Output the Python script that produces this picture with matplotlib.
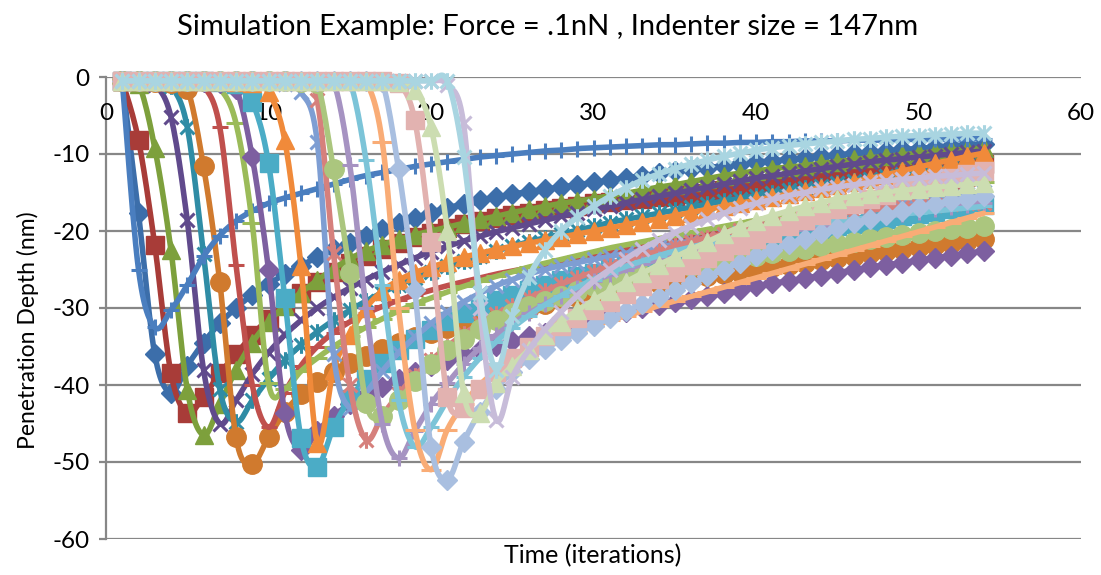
import numpy as np
import matplotlib
matplotlib.use("Agg")
import matplotlib.pyplot as plt
from matplotlib.path import Path
from matplotlib.ticker import FuncFormatter

plt.rcParams['font.family'] = ['Lato', 'DejaVu Sans']

# iteration index shared by every run
iterations = list(range(1, 55))

# penetration depth (nm) per run, one value per iteration
run01 = [-0.5, -17.7, -36.0, -41.0, -37.5, -34.5, -32.0, -30.0, -28.3, -26.9,
         -25.6, -24.5, -23.4, -22.4, -21.5, -20.6, -19.8, -19.0, -18.3, -17.6,
         -17.0, -16.5, -16.0, -15.6, -15.2, -14.9, -14.6, -14.3, -14.0, -13.7,
         -13.4, -13.1, -12.8, -12.5, -12.2, -12.0, -11.8, -11.5, -11.3, -11.1,
         -10.9, -10.7, -10.5, -10.3, -10.1, -9.9, -9.8, -9.6, -9.4, -9.3,
         -9.1, -9.0, -8.8, -8.7]
run02 = [-0.5, -8.2, -21.8, -38.5, -43.6, -41.5, -38.5, -36.0, -33.5, -31.4,
         -29.6, -28.0, -26.6, -25.3, -24.2, -23.2, -22.3, -21.5, -20.8, -20.2,
         -19.6, -19.1, -18.7, -18.3, -17.9, -17.6, -17.3, -17.0, -16.7, -16.4,
         -16.2, -16.0, -15.8, -15.6, -15.4, -15.2, -15.0, -14.7, -14.5, -14.3,
         -14.1, -13.9, -13.6, -13.4, -13.2, -13.0, -12.7, -12.5, -12.3, -12.1,
         -11.9, -11.7, -11.5, -11.3]
run03 = [-0.5, -0.9, -9.2, -22.5, -40.6, -46.5, -42.5, -38.0, -34.5, -31.8,
         -29.7, -28.0, -26.4, -24.9, -23.6, -22.6, -21.8, -21.1, -20.5, -20.0,
         -19.5, -19.0, -18.5, -18.1, -17.6, -17.2, -16.8, -16.4, -16.1, -15.8,
         -15.4, -15.1, -14.7, -14.3, -14.0, -13.6, -13.2, -12.8, -12.5, -12.2,
         -11.9, -11.7, -11.5, -11.2, -11.0, -10.7, -10.5, -10.3, -10.1, -9.9,
         -9.7, -9.5, -9.4, -9.2]
run04 = [-0.5, -0.6, -1.0, -5.2, -18.6, -38.0, -45.0, -42.0, -38.6, -35.8,
         -33.5, -31.6, -30.0, -28.6, -27.4, -26.3, -25.3, -24.4, -23.5, -22.7,
         -22.0, -21.3, -20.7, -20.1, -19.6, -19.1, -18.6, -18.1, -17.7, -17.2,
         -16.8, -16.3, -15.9, -15.5, -15.1, -14.7, -14.3, -13.9, -13.5, -13.1,
         -12.8, -12.5, -12.2, -11.9, -11.6, -11.3, -11.0, -10.8, -10.6, -10.4,
         -10.2, -10.0, -9.8, -9.6]
run05 = [-0.5, -0.5, -0.7, -1.2, -6.5, -23.0, -40.5, -44.8, -42.0, -39.2,
         -36.8, -34.8, -33.1, -31.6, -30.3, -29.1, -28.0, -27.0, -26.1, -25.3,
         -24.6, -23.9, -23.2, -22.6, -22.0, -21.4, -20.9, -20.4, -19.9, -19.4,
         -18.9, -18.5, -18.1, -17.7, -17.3, -16.9, -16.5, -16.1, -15.8, -15.4,
         -15.1, -14.7, -14.4, -14.1, -13.8, -13.5, -13.2, -12.9, -12.6, -12.3,
         -12.0, -11.7, -11.4, -11.2]
run06 = [-0.5, -0.5, -0.6, -0.8, -1.5, -11.6, -26.6, -46.8, -50.2, -46.8,
         -43.5, -41.2, -39.6, -38.3, -37.2, -36.2, -35.3, -34.5, -33.8, -33.2,
         -32.6, -32.0, -31.5, -31.0, -30.5, -30.0, -29.5, -29.0, -28.6, -28.2,
         -27.8, -27.4, -27.1, -26.8, -26.5, -26.2, -25.9, -25.6, -25.3, -25.0,
         -24.7, -24.4, -24.1, -23.8, -23.5, -23.2, -22.9, -22.6, -22.4, -22.1,
         -21.8, -21.6, -21.3, -21.1]
run07 = [-0.5, -25.0, -32.5, -30.3, -27.0, -23.3, -20.6, -18.7, -17.4, -16.4,
         -15.7, -15.1, -14.5, -13.9, -13.3, -12.8, -12.4, -12.0, -11.6, -11.3,
         -11.0, -10.7, -10.4, -10.2, -10.0, -9.8, -9.6, -9.5, -9.3, -9.2,
         -9.1, -9.0, -8.9, -8.8, -8.8, -8.7, -8.6, -8.6, -8.5, -8.5,
         -8.4, -8.4, -8.3, -8.3, -8.3, -8.2, -8.2, -8.2, -8.1, -8.1,
         -8.1, -8.1, -8.0, -8.0]
run08 = [-0.5, -0.5, -0.5, -0.6, -0.7, -1.2, -6.5, -24.4, -40.0, -45.5,
         -41.0, -37.5, -35.0, -33.2, -31.8, -30.7, -29.8, -29.0, -28.3, -27.7,
         -27.1, -26.6, -26.1, -25.6, -25.2, -24.8, -24.4, -24.0, -23.6, -23.2,
         -22.8, -22.4, -22.0, -21.6, -21.2, -20.8, -20.4, -20.0, -19.6, -19.2,
         -18.8, -18.4, -18.0, -17.6, -17.2, -16.8, -16.4, -16.0, -15.6, -15.2,
         -14.8, -14.4, -14.0, -13.6]
run09 = [-0.5, -0.5, -0.5, -0.5, -0.6, -0.8, -1.5, -6.0, -19.0, -39.8,
         -40.5, -38.2, -36.5, -35.0, -33.7, -32.5, -31.4, -30.4, -29.5, -28.7,
         -27.9, -27.2, -26.5, -25.9, -25.3, -24.7, -24.2, -23.7, -23.2, -22.7,
         -22.2, -21.8, -21.4, -21.0, -20.6, -20.2, -19.8, -19.4, -19.0, -18.6,
         -18.2, -17.8, -17.4, -17.0, -16.7, -16.3, -15.9, -15.5, -15.2, -14.8,
         -14.5, -14.2, -13.9, -13.6]
run10 = [-0.5, -0.5, -0.5, -0.5, -0.5, -0.6, -0.8, -1.5, -10.4, -25.0,
         -43.6, -48.4, -46.0, -44.0, -42.5, -41.3, -40.2, -39.2, -38.3, -37.5,
         -36.8, -36.1, -35.5, -34.9, -34.3, -33.7, -33.2, -32.7, -32.1, -31.6,
         -31.1, -30.5, -30.0, -29.6, -29.2, -28.8, -28.4, -28.0, -27.6, -27.2,
         -26.8, -26.5, -26.1, -25.8, -25.4, -25.1, -24.7, -24.4, -24.1, -23.8,
         -23.5, -23.2, -22.9, -22.6]
run11 = [-0.5, -0.5, -0.5, -0.5, -0.5, -0.5, -0.6, -0.9, -3.2, -11.2,
         -28.7, -46.9, -50.6, -45.5, -41.8, -39.2, -37.2, -35.5, -34.0, -32.8,
         -31.7, -30.7, -29.8, -29.0, -28.3, -27.6, -27.0, -26.4, -25.9, -25.4,
         -24.9, -24.4, -24.0, -23.6, -23.2, -22.8, -22.4, -22.0, -21.6, -21.2,
         -20.8, -20.5, -20.1, -19.8, -19.4, -19.1, -18.7, -18.4, -18.1, -17.8,
         -17.5, -17.2, -16.9, -16.6]
run12 = [-0.5, -0.5, -0.5, -0.5, -0.5, -0.5, -0.5, -0.6, -0.8, -2.0,
         -8.2, -24.6, -47.5, -38.0, -33.5, -30.0, -27.8, -26.4, -25.4, -24.7,
         -24.0, -23.4, -22.9, -22.4, -22.0, -21.6, -21.2, -20.8, -20.4, -20.0,
         -19.6, -19.2, -18.8, -18.4, -18.0, -17.6, -17.2, -16.8, -16.4, -16.0,
         -15.6, -15.2, -14.8, -14.4, -14.0, -13.6, -13.2, -12.7, -12.2, -11.7,
         -11.2, -10.8, -10.3, -9.9]
run13 = [-0.5, -0.5, -0.5, -0.5, -0.5, -0.5, -0.5, -0.5, -0.6, -0.7,
         -0.9, -2.0, -8.4, -36.0, -43.0, -41.0, -38.2, -35.8, -33.8, -32.0,
         -30.5, -29.2, -28.1, -27.1, -26.3, -25.6, -25.0, -24.5, -24.1, -23.7,
         -23.3, -22.9, -22.5, -22.1, -21.7, -21.3, -20.9, -20.5, -20.1, -19.7,
         -19.3, -18.9, -18.5, -18.2, -17.8, -17.5, -17.1, -16.8, -16.4, -16.1,
         -15.8, -15.5, -15.2, -14.9]
run14 = [-0.5, -0.5, -0.5, -0.5, -0.5, -0.5, -0.5, -0.5, -0.5, -0.5,
         -0.6, -0.7, -3.0, -22.9, -40.0, -47.1, -44.0, -41.2, -38.8, -36.8,
         -35.0, -33.4, -32.0, -30.8, -29.7, -28.7, -27.8, -26.9, -26.1, -25.3,
         -24.6, -23.9, -23.2, -22.6, -22.0, -21.4, -20.9, -20.4, -19.9, -19.5,
         -19.1, -18.7, -18.4, -18.1, -17.8, -17.5, -17.3, -17.1, -16.9, -16.7,
         -16.6, -16.5, -16.4, -16.3]
run15 = [-0.5, -0.5, -0.5, -0.5, -0.5, -0.5, -0.5, -0.5, -0.5, -0.5,
         -0.5, -0.6, -0.8, -12.0, -25.5, -42.3, -44.0, -42.0, -39.5, -37.3,
         -35.5, -34.0, -32.7, -31.6, -30.6, -29.8, -29.1, -28.4, -27.8, -27.2,
         -26.7, -26.2, -25.7, -25.3, -24.9, -24.5, -24.1, -23.8, -23.5, -23.2,
         -22.9, -22.6, -22.3, -22.0, -21.7, -21.4, -21.1, -20.8, -20.5, -20.3,
         -20.0, -19.8, -19.6, -19.4]
run16 = [-0.5, -0.5, -0.5, -0.5, -0.5, -0.5, -0.5, -0.5, -0.5, -0.5,
         -0.5, -0.5, -0.5, -0.6, -11.4, -30.0, -45.0, -49.5, -46.0, -42.5,
         -39.8, -37.3, -35.2, -33.5, -32.0, -30.7, -29.5, -28.4, -27.4, -26.5,
         -25.7, -25.0, -24.3, -23.7, -23.1, -22.6, -22.1, -21.6, -21.2, -20.8,
         -20.4, -20.0, -19.7, -19.3, -19.0, -18.7, -18.4, -18.1, -17.8, -17.5,
         -17.2, -16.9, -16.6, -16.3]
run17 = [-0.5, -0.5, -0.5, -0.5, -0.5, -0.5, -0.5, -0.5, -0.5, -0.5,
         -0.5, -0.5, -0.5, -0.5, -0.6, -10.8, -27.0, -42.0, -48.0, -45.5,
         -42.0, -39.0, -36.5, -34.4, -32.6, -31.0, -29.6, -28.4, -27.3, -26.3,
         -25.4, -24.6, -23.9, -23.2, -22.6, -22.1, -21.6, -21.1, -20.7, -20.3,
         -19.9, -19.6, -19.3, -19.0, -18.7, -18.5, -18.3, -18.0, -17.8, -17.6,
         -17.4, -17.2, -17.0, -16.8]
run18 = [-0.5, -0.5, -0.5, -0.5, -0.5, -0.5, -0.5, -0.5, -0.5, -0.5,
         -0.5, -0.5, -0.5, -0.5, -0.5, -0.6, -8.4, -30.0, -45.8, -51.0,
         -45.8, -42.5, -40.0, -38.2, -36.8, -35.7, -34.7, -33.8, -33.0, -32.3,
         -31.6, -31.0, -30.4, -29.7, -29.1, -28.5, -27.9, -27.3, -26.7, -26.1,
         -25.5, -24.9, -24.3, -23.7, -23.1, -22.5, -21.9, -21.3, -20.7, -20.1,
         -19.5, -18.9, -18.3, -17.7]
run19 = [-0.5, -0.5, -0.5, -0.5, -0.5, -0.5, -0.5, -0.5, -0.5, -0.5,
         -0.5, -0.5, -0.5, -0.5, -0.5, -0.5, -0.7, -11.9, -27.7, -48.0,
         -52.3, -47.4, -43.5, -40.5, -38.3, -36.6, -35.3, -34.2, -33.2, -32.3,
         -31.3, -30.4, -29.5, -28.6, -27.7, -26.8, -25.9, -25.0, -24.1, -23.3,
         -22.5, -21.7, -21.0, -20.3, -19.6, -19.0, -18.4, -17.9, -17.4, -16.9,
         -16.5, -16.1, -15.8, -15.5]
run20 = [-0.5, -0.5, -0.5, -0.5, -0.5, -0.5, -0.5, -0.5, -0.5, -0.5,
         -0.5, -0.5, -0.5, -0.5, -0.5, -0.5, -0.5, -0.8, -5.6, -21.4,
         -41.5, -43.0, -40.5, -38.3, -36.5, -35.0, -33.6, -32.4, -31.3, -30.2,
         -29.2, -28.2, -27.2, -26.2, -25.3, -24.4, -23.5, -22.6, -21.8, -21.0,
         -20.2, -19.4, -18.6, -17.9, -17.2, -16.5, -15.9, -15.3, -14.7, -14.1,
         -13.6, -13.1, -12.6, -12.2]
run21 = [-0.5, -0.5, -0.5, -0.5, -0.5, -0.5, -0.5, -0.5, -0.5, -0.5,
         -0.5, -0.5, -0.5, -0.5, -0.5, -0.5, -0.5, -0.6, -1.7, -6.5,
         -20.0, -41.0, -43.6, -39.8, -37.5, -35.5, -33.5, -31.8, -30.3, -29.0,
         -27.8, -26.6, -25.5, -24.4, -23.4, -22.4, -21.4, -20.4, -19.5, -18.7,
         -18.0, -17.4, -16.8, -16.3, -15.8, -15.5, -15.2, -14.9, -14.7, -14.5,
         -14.3, -14.1, -13.9, -13.8]
run22 = [-0.5, -0.5, -0.5, -0.5, -0.5, -0.5, -0.5, -0.5, -0.5, -0.5,
         -0.5, -0.5, -0.5, -0.5, -0.5, -0.5, -0.5, -0.5, -0.5, -0.5,
         -1.0, -6.0, -30.0, -44.5, -39.0, -35.5, -32.8, -30.5, -28.4, -26.5,
         -25.0, -23.6, -22.3, -21.2, -20.2, -19.3, -18.5, -17.7, -17.0, -16.4,
         -15.9, -15.4, -15.0, -14.6, -14.3, -14.0, -13.7, -13.5, -13.3, -13.1,
         -12.9, -12.8, -12.6, -12.5]
run23 = [-0.5, -0.5, -0.5, -0.5, -0.5, -0.5, -0.5, -0.5, -0.5, -0.5,
         -0.5, -0.5, -0.5, -0.5, -0.5, -0.5, -0.5, -0.5, -0.5, -0.5,
         -0.5, -10.4, -28.0, -38.0, -31.0, -26.0, -22.5, -20.0, -18.2, -16.8,
         -15.5, -14.4, -13.4, -12.6, -11.9, -11.3, -10.8, -10.3, -9.9, -9.5,
         -9.2, -8.9, -8.7, -8.5, -8.3, -8.1, -8.0, -7.8, -7.7, -7.6,
         -7.5, -7.4, -7.3, -7.3]

runs = [run01, run02, run03, run04, run05, run06, run07, run08, run09, run10,
        run11, run12, run13, run14, run15, run16, run17, run18, run19, run20,
        run21, run22, run23]

colors = ['#3C6EAA', '#A83C38', '#7DA03C', '#604A8C', '#2F8CA5', '#D07A2E',
          '#4A7EBF', '#C0504D', '#9BBB59', '#7D5FA0', '#4BACC6', '#F08A3A',
          '#7E9ED3', '#D6807C', '#ABC67E', '#A693C2', '#7CC4D8', '#F9AC76',
          '#A9BFE0', '#E2B2B0', '#CCDDB1', '#C7BCD9', '#A9D5E1']

# asterisk: an x with a vertical bar through it
STAR = Path([(-0.5, -0.5), (0.5, 0.5), (-0.5, 0.5), (0.5, -0.5), (0, -0.6), (0, 0.6)],
            [Path.MOVETO, Path.LINETO, Path.MOVETO, Path.LINETO, Path.MOVETO, Path.LINETO])

# marker, size, filled
marker_cycle = [('D', 10, True), ('s', 12.5, True), ('^', 13.5, True), ('x', 10, False),
                (STAR, 12, False), ('o', 14, True), ('+', 12, False),
                ('_', 11, False), ('_', 14, False)]


def smooth(x, y, n=12):
    """Bezier smoothing through the points, like a spreadsheet smoothed line."""
    pts = np.column_stack([x, y]).astype(float)
    p = np.vstack([pts[0], pts, pts[-1]])
    s = np.linspace(0, 1, n, endpoint=False)[:, None]
    out = []
    for i in range(1, len(p) - 2):
        p0, p1, p2, p3 = p[i - 1], p[i], p[i + 1], p[i + 2]
        c1 = p1 + (p2 - p0) / 6.0
        c2 = p2 - (p3 - p1) / 6.0
        out.append((1 - s) ** 3 * p1 + 3 * (1 - s) ** 2 * s * c1
                   + 3 * (1 - s) * s ** 2 * c2 + s ** 3 * p2)
    out.append(pts[-1:])
    seg = np.vstack(out)
    return seg[:, 0], seg[:, 1]


def main():
    fig = plt.figure(figsize=(11.01, 5.75), dpi=100)
    ax = fig.add_axes([106 / 1101, 1 - 539 / 575, 975 / 1101, 462 / 575])

    grid = '#878787'
    ax.set_xlim(0, 60)
    ax.set_ylim(-60, 0)
    ax.set_yticks(range(-60, 1, 10))
    ax.yaxis.set_major_formatter(FuncFormatter(lambda v, _: f"{int(v)}"))
    ax.set_xticks([])
    ax.grid(axis='y', color=grid, linewidth=1.6)
    ax.set_axisbelow(True)
    for side in ('right', 'bottom', 'top'):
        ax.spines[side].set_visible(False)
    ax.spines['left'].set_color(grid)
    ax.spines['left'].set_linewidth(1.6)
    ax.tick_params(axis='y', colors=grid, length=5, width=1.6, pad=7,
                   labelsize=17.5, labelcolor='black')

    # x tick labels sit just under the zero line
    for v in range(0, 61, 10):
        ax.annotate(str(v), xy=(v, 0), xytext=(0, -26), textcoords='offset points',
                    ha='center', va='center', fontsize=17.5)

    for k, (vals, col) in enumerate(zip(runs, colors)):
        mk, ms, filled = marker_cycle[k % len(marker_cycle)]
        xs, ys = smooth(iterations, vals)
        ax.plot(xs, ys, color=col, linewidth=4.0, solid_capstyle='round', clip_on=False,
                zorder=3 + k)
        ax.plot(iterations, vals, linestyle='none', marker=mk, markersize=ms,
                color=col, markerfacecolor=col if filled else 'none',
                markeredgewidth=1.0 if filled else 2.2, clip_on=False, zorder=3 + k)

    fig.text(548 / 1101, 1 - 27 / 575, 'Simulation Example: Force = .1nN , Indenter size = 147nm',
             ha='center', va='center', fontsize=21)
    fig.text(593 / 1101, 1 - 556 / 575, 'Time (iterations)', ha='center', va='center', fontsize=18)
    fig.text(28 / 1101, 1 - 330 / 575, 'Penetration Depth (nm)', ha='center', va='center',
             rotation=90, fontsize=16.5)

    fig.savefig('out.png', dpi=100)


if __name__ == "__main__":
    main()
